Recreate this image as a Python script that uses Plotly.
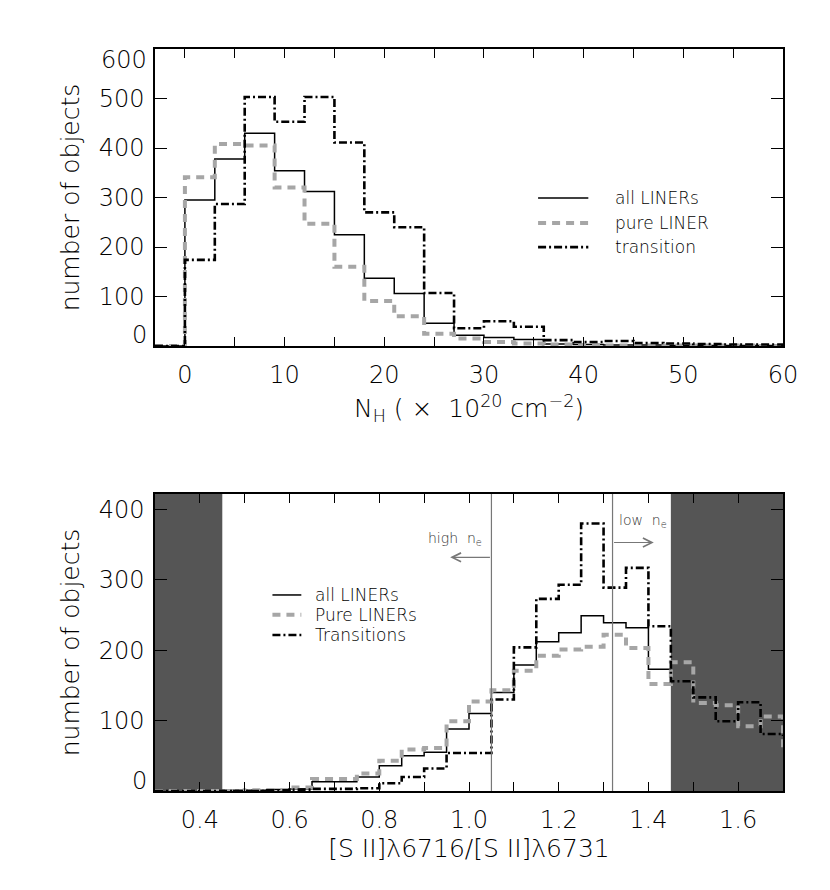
import plotly.graph_objects as go
from plotly.subplots import make_subplots

# ---------------- data: top panel (N_H histogram) ----------------
nh_edges = [-3, 0, 3, 6, 9, 12, 15, 18, 21, 24, 27, 30, 33, 36, 39, 42, 45, 48, 51, 54, 57, 60]
nh_all = [0, 295, 378, 430, 354, 312, 225, 137, 106, 46, 22, 17, 13, 4, 3, 2, 2, 1, 1, 1, 1]
nh_pure = [0, 341, 408, 405, 320, 247, 160, 91, 60, 25, 15, 8, 5, 3, 2, 1, 1, 1, 1, 1, 0]
nh_trans = [0, 174, 287, 503, 453, 503, 411, 270, 240, 107, 36, 50, 39, 12, 8, 10, 6, 5, 4, 3, 3]

# ---------------- data: bottom panel ([SII] ratio histogram) ----------------
sii_edges = [0.30, 0.35, 0.40, 0.45, 0.50, 0.55, 0.60, 0.65, 0.70, 0.75, 0.80, 0.85, 0.90, 0.95,
             1.00, 1.05, 1.10, 1.15, 1.20, 1.25, 1.30, 1.35, 1.40, 1.45, 1.50, 1.55, 1.60, 1.65,
             1.70, 1.75]
sii_all = [1, 1, 1, 1, 1, 2, 3, 13, 13, 20, 36, 50, 55, 88, 110, 140, 179, 212, 225, 249, 239,
           232, 173, 160, 135, 115, 100, 85, 80]
sii_pure = [0, 0, 0, 0, 1, 1, 5, 17, 17, 25, 43, 59, 61, 99, 127, 143, 171, 192, 201, 205, 222,
            203, 152, 183, 125, 122, 92, 106, 55]
sii_trans = [0, 0, 0, 0, 0, 1, 2, 3, 3, 4, 11, 20, 32, 54, 54, 130, 204, 273, 293, 380, 289,
             317, 234, 156, 133, 99, 126, 81, 80]

density_limits = [1.05, 1.32]          # vertical lines
excluded_regions = [(0.30, 0.45), (1.45, 1.70)]  # shaded
top_x_ticks = [0, 10, 20, 30, 40, 50, 60]
top_y_ticks = [0, 100, 200, 300, 400, 500, 600]
bot_x_ticks = [0.4, 0.6, 0.8, 1.0, 1.2, 1.4, 1.6]
bot_y_ticks = [0, 100, 200, 300, 400]

X1_RANGE = [-3, 60]
Y1_RANGE = [0, 600]
X2_RANGE = [0.3, 1.7]
Y2_RANGE = [0, 422]

FAM = "DejaVu Sans"
TICKFONT = dict(family=FAM, size=24, color="black", weight=200)
TITLEFONT = dict(family=FAM, size=25, color="black", weight=200)
LEGFONT = dict(family=FAM, size=17, color="black", weight=200)
SMALLFONT = dict(family=FAM, size=14, color="#333333", weight=200)

STY_ALL = dict(color="black", width=1.5)
STY_PURE = dict(color="#a6a6a6", width=4, dash="8px,6px")
STY_TRANS = dict(color="black", width=2.6, dash="8px,3px,2px,3px")
SHADE = "#555555"


def steps(edges, vals):
    return list(edges), list(vals) + [vals[-1]]


fig = make_subplots(rows=2, cols=1)

# ---- top panel ----
for vals, sty in [(nh_all, STY_ALL), (nh_pure, STY_PURE), (nh_trans, STY_TRANS)]:
    xs, ys = steps(nh_edges, vals)
    fig.add_trace(go.Scatter(x=xs, y=ys, mode="lines", line=dict(shape="hv", **sty),
                             showlegend=False, hoverinfo="skip"), row=1, col=1)

# ---- bottom panel ----
xs, ys = steps(sii_edges, sii_all)
fig.add_trace(go.Scatter(x=xs, y=ys, mode="lines", line=dict(shape="hv", **STY_ALL),
                         showlegend=False, hoverinfo="skip"), row=2, col=1)
for (a, b) in excluded_regions:
    fig.add_trace(go.Scatter(x=[a, b, b, a, a], y=[Y2_RANGE[0], Y2_RANGE[0], Y2_RANGE[1], Y2_RANGE[1], Y2_RANGE[0]],
                             mode="lines", fill="toself", fillcolor=SHADE, line=dict(width=0, color=SHADE),
                             showlegend=False, hoverinfo="skip"), row=2, col=1)
for vals, sty in [(sii_pure, STY_PURE), (sii_trans, STY_TRANS)]:
    xs, ys = steps(sii_edges, vals)
    fig.add_trace(go.Scatter(x=xs, y=ys, mode="lines", line=dict(shape="hv", **sty),
                             showlegend=False, hoverinfo="skip"), row=2, col=1)

for xv in density_limits:
    fig.add_shape(type="line", xref="x2", yref="y2 domain", x0=xv, x1=xv, y0=0, y1=1,
                  line=dict(color="#777777", width=1.2), layer="above")

# arrows + labels
fig.add_annotation(xref="x2", yref="y2", axref="x2", ayref="y2", x=0.958, y=332, ax=1.05, ay=332,
                   showarrow=True, arrowhead=5, arrowsize=1.6, arrowwidth=1.1, arrowcolor="#777777", text="")
fig.add_annotation(xref="x2", yref="y2", axref="x2", ayref="y2", x=1.412, y=353, ax=1.32, ay=353,
                   showarrow=True, arrowhead=5, arrowsize=1.6, arrowwidth=1.1, arrowcolor="#777777", text="")
fig.add_annotation(xref="x2", yref="y2", x=0.969, y=358, text="high  n<sub>e</sub>", showarrow=False,
                   font=SMALLFONT)
fig.add_annotation(xref="x2", yref="y2", x=1.388, y=383, text="low  n<sub>e</sub>", showarrow=False,
                   font=SMALLFONT)

# ---- legends (drawn manually) ----
def legend(xr, yr, x0, x1, ys, labels, tx, styles, font):
    for yy, lab, sty in zip(ys, labels, styles):
        fig.add_shape(type="line", xref=xr, yref=yr, x0=x0, x1=x1, y0=yy, y1=yy, line=sty, layer="above")
        fig.add_annotation(xref=xr, yref=yr, x=tx, y=yy, text=lab, showarrow=False, xanchor="left",
                           yanchor="middle", font=font)

legend("x domain", "y domain", 0.610, 0.690, [0.498, 0.414, 0.333],
       ["all LINERs", "pure LINER", "transition"], 0.730,
       [STY_ALL, STY_PURE, STY_TRANS], LEGFONT)
legend("x2 domain", "y2 domain", 0.187, 0.233, [0.660, 0.593, 0.525],
       ["all LINERs", "Pure LINERs", "Transitions"], 0.252,
       [STY_ALL, STY_PURE, STY_TRANS], LEGFONT)

# ---- axes ----
common_x = dict(showgrid=False, zeroline=False, showline=True, linecolor="black", linewidth=1.5,
                mirror="ticks", ticks="inside", ticklen=9, tickwidth=1.2, tickcolor="black",
                tickfont=TICKFONT, ticklabelstandoff=6)
common_y = dict(showgrid=False, zeroline=False, showline=True, linecolor="black", linewidth=1.5,
                mirror="ticks", ticks="inside", ticklen=12, tickwidth=1.2, tickcolor="black",
                tickfont=TICKFONT, ticklabelstandoff=4)

fig.update_xaxes(row=1, col=1, range=X1_RANGE, tickvals=top_x_ticks,
                 minor=dict(dtick=5, tick0=0, ticks="inside", ticklen=9, tickcolor="black", tickwidth=1.2),
                 title=dict(text="N<sub>H</sub> ( ×  10<sup>20</sup> cm<sup>−2</sup>)", font=TITLEFONT, standoff=12),
                 **common_x)
fig.update_yaxes(row=1, col=1, range=Y1_RANGE, tickvals=top_y_ticks,
                 ticktext=["" if v in (Y1_RANGE[0], Y1_RANGE[1]) else str(v) for v in top_y_ticks],
                 title=dict(text="number of objects", font=TITLEFONT, standoff=12), domain=[0.5997, 1.0],
                 **common_y)
fig.update_xaxes(row=2, col=1, range=X2_RANGE, tickvals=bot_x_ticks, ticktext=[f"{v:.1f}" for v in bot_x_ticks],
                 minor=dict(dtick=0.1, tick0=0.3, ticks="inside", ticklen=9, tickcolor="black", tickwidth=1.2),
                 title=dict(text="[S II]λ6716/[S II]λ6731", font=TITLEFONT, standoff=6),
                 **common_x)
fig.update_yaxes(row=2, col=1, range=Y2_RANGE, tickvals=bot_y_ticks,
                 ticktext=["" if v == 0 else str(v) for v in bot_y_ticks],
                 title=dict(text="number of objects", font=TITLEFONT, standoff=12), domain=[0.0, 0.4003],
                 **common_y)

# end labels, nudged inward like the original
for yref, val, shift in [("y", top_y_ticks[0], 11), ("y", top_y_ticks[-1], -11), ("y2", bot_y_ticks[0], 10)]:
    fig.add_annotation(xref=yref.replace("y", "x") + " domain", yref=yref, x=0, y=val, xanchor="right",
                       yanchor="middle", xshift=-6, yshift=shift, text=str(val), showarrow=False,
                       font=TICKFONT)

# page body has an 8px margin, so margins are reduced by 8 on left/top
fig.update_layout(width=830, height=890, margin=dict(l=147, r=55, t=41, b=107),
                  plot_bgcolor="white", paper_bgcolor="white", showlegend=False)

fig.write_html("out.html")
